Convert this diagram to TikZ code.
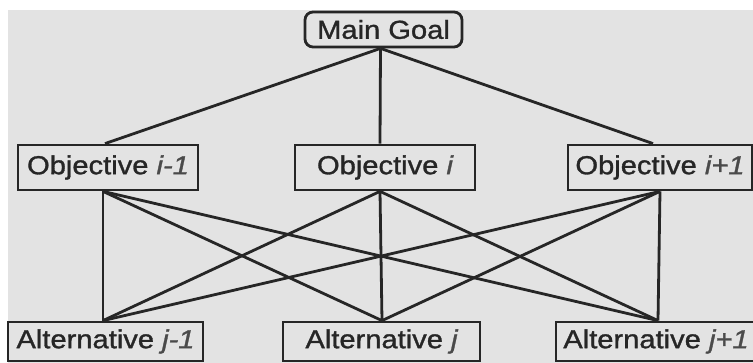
\documentclass[tikz,border=0pt]{standalone}
\usepackage{fontspec}
\setmainfont[FakeStretch=1.12,FakeBold=1.2]{Liberation Sans}
\definecolor{bgc}{HTML}{E3E3E3}
\definecolor{ink}{HTML}{262626}
\definecolor{ital}{HTML}{4A4A4A}
\begin{document}
\begin{tikzpicture}[x=1pt,y=1pt,
  box/.style={draw=ink,line width=2.8pt,fill=bgc,inner sep=0pt,
    font=\fontsize{26}{28}\selectfont,text=ink},
  goalbox/.style={box,rounded corners=8pt},
  link/.style={draw=ink,line width=2.8pt}]
\useasboundingbox (0,0) rectangle (753,363);
\fill[white] (0,0) rectangle (753,363);
\fill[bgc] (8,0) rectangle (753,353);
% nodes (y = 363 - pixel row)
\node[goalbox,minimum width=157pt,minimum height=35pt] (main) at (383.5,333.5) {Main Goal};
\node[box,minimum width=180pt,minimum height=45pt] (o1) at (108,195.5) {Objective \textcolor{ital}{\itshape i-1}};
\node[box,minimum width=180pt,minimum height=45pt] (o2) at (385,195.5) {Objective \textcolor{ital}{\itshape i}};
\node[box,minimum width=184pt,minimum height=45pt] (o3) at (660,195.5) {Objective \textcolor{ital}{\itshape i+1}};
\node[box,minimum width=195pt,minimum height=39pt] (a1) at (105.5,21.5) {Alternative \textcolor{ital}{\itshape j-1}};
\node[box,minimum width=197pt,minimum height=39pt] (a2) at (381.5,21.5) {Alternative \textcolor{ital}{\itshape j}};
\node[box,minimum width=200pt,minimum height=39pt] (a3) at (656,21.5) {Alternative \textcolor{ital}{\itshape j+1}};
% connectors
\draw[link] ([xshift=-3pt]main.south) -- ([xshift=-3pt]o1.north);
\draw[link] ([xshift=-3pt]main.south) -- ([xshift=-5pt]o2.north);
\draw[link] ([xshift=-3pt]main.south) -- ([xshift=-7pt]o3.north);
\foreach \o/\s in {o1/-5pt,o2/-5pt,o3/0pt}{
  \foreach \a/\t in {a1/-2.5pt,a2/0.5pt,a3/2pt}{
    \draw[link] ([xshift=\s]\o.south) -- ([xshift=\t]\a.north);
  }
}
\end{tikzpicture}
\end{document}
